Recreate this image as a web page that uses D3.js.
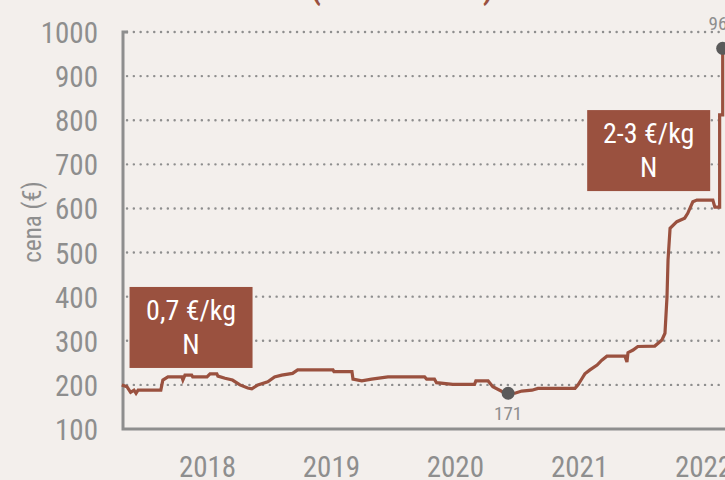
<!DOCTYPE html>
<html>
<head>
<meta charset="utf-8">
<script src="https://cdn.jsdelivr.net/npm/d3@7"></script>
<style>
  body { margin: 0; background: #f3efec; }
  svg { display: block; font-family: "Liberation Sans Narrow", "Roboto Condensed", "DejaVu Sans Condensed", sans-serif; }
</style>
</head>
<body>
<svg id="chart" width="725" height="480"></svg>
<script>
// weekly price of nitrogen fertiliser
const dates = [
  "2017-04-25","2017-05-10","2017-05-21","2017-05-31","2017-06-06","2017-06-12","2017-08-18",
  "2017-08-24","2017-09-08","2017-10-19","2017-10-22","2017-10-28","2017-11-17","2017-11-20",
  "2018-01-01","2018-01-10","2018-01-30","2018-02-02","2018-02-23","2018-03-17","2018-04-08",
  "2018-05-01","2018-05-13","2018-05-31","2018-06-29","2018-07-19","2018-08-09","2018-09-10",
  "2018-09-25","2019-01-07","2019-01-10","2019-03-04","2019-03-07","2019-04-02","2019-05-01",
  "2019-06-18","2019-10-04","2019-10-10","2019-11-02","2019-11-08","2019-12-26","2020-02-28",
  "2020-03-03","2020-04-08","2020-04-22","2020-05-19","2020-06-06","2020-06-26","2020-07-16",
  "2020-08-15","2020-09-02","2020-12-20","2020-12-29","2021-01-10","2021-01-18","2021-02-02",
  "2021-02-23","2021-03-09","2021-03-24","2021-05-16","2021-05-22","2021-05-25","2021-06-09",
  "2021-06-23","2021-08-12","2021-09-02","2021-09-11","2021-09-17","2021-09-20","2021-09-26",
  "2021-10-16","2021-11-08","2021-11-17","2021-12-02","2021-12-14","2022-01-30","2022-02-05",
  "2022-02-19","2022-02-19","2022-02-28","2022-02-28"
]
const prices = [
  200,196,183,188,181,188,188,
  211,218,218,211,222,222,218,
  218,225,225,220,215,211,200,
  193,191,200,207,218,222,226,
  234,234,230,230,213,209,213,
  218,218,213,213,205,201,201,
  209,209,196,185,181,181,186,
  188,192,192,200,215,225,234,
  245,256,265,265,252,273,279,
  287,288,302,317,400,483,555,
  570,578,589,615,619,619,603,
  603,812,812,963
]

// marked points: min and max
const markDates = ["2020-06-06", "2022-02-28"]
const markValues = [181, 963]
const markLabels = ["171", "963"]

const yTicks = [100, 200, 300, 400, 500, 600, 700, 800, 900, 1000]
const yearTicks = ["2018", "2019", "2020", "2021", "2022"]

const notes = [
  { date: "2017-11-15", value: 422, lines: ["0,7 €/kg", "N"] },
  { date: "2021-07-25", value: 823, lines: ["2-3 €/kg", "N"] }
]

const parse = d3.utcParse("%Y-%m-%d")
const data = dates.map((d, i) => ({ date: parse(d), value: prices[i] }))

const svg = d3.select("#chart")
const left = 123, bottom = 429

const x = d3.scaleUtc()
  .domain([parse("2018-01-01"), parse("2022-01-01")])
  .range([207, 703])
const y = d3.scaleLinear().domain([100, 1000]).range([bottom, 32])

const grey = "#8e8e8e"
const brown = "#9a513f"

// cut title (only bottom of parentheses visible)
svg.append("text")
  .attr("x", 402).attr("y", -1)
  .attr("text-anchor", "middle")
  .attr("fill", brown)
  .style("font-size", "32px").style("font-weight", "bold")
  .text("(2017 – 2022)")

// dotted grid
svg.append("g")
  .selectAll("line")
  .data(yTicks.filter(d => d > 100))
  .join("line")
  .attr("x1", left + 4).attr("x2", 725)
  .attr("y1", d => y(d)).attr("y2", d => y(d))
  .attr("stroke", grey)
  .attr("stroke-width", 2.4)
  .attr("stroke-linecap", "round")
  .attr("stroke-dasharray", "0.1 6.7")

// y axis labels
const yAxis = svg.append("g")
  .attr("transform", `translate(${left},0)`)
  .call(d3.axisLeft(y).tickValues(yTicks).tickSize(0).tickPadding(25).tickFormat(d3.format("d")))
  .attr("font-family", null)
yAxis.select(".domain").remove()
yAxis.selectAll("text")
  .attr("fill", grey)
  .style("font-size", "29px")
  .attr("dy", "0.36em")

// x axis labels
const xAxis = svg.append("g")
  .attr("transform", `translate(0,${bottom})`)
  .call(d3.axisBottom(x).tickValues(yearTicks.map(d => parse(d + "-01-01"))).tickSize(0).tickFormat(d3.utcFormat("%Y")))
  .attr("font-family", null)
xAxis.select(".domain").remove()
xAxis.selectAll("text")
  .attr("fill", grey)
  .attr("y", 48)
  .attr("dy", 0)
  .style("font-size", "29px")

// axis frame
svg.append("path")
  .attr("d", `M${left + 5},${y(1000)}H${left}V${bottom}H725`)
  .attr("fill", "none")
  .attr("stroke", grey)
  .attr("stroke-width", 3)

svg.append("text")
  .attr("transform", "translate(41,222) rotate(-90)")
  .attr("text-anchor", "middle")
  .attr("fill", grey)
  .style("font-size", "25px")
  .text("cena (€)")

// price line
const line = d3.line().x(d => x(d.date)).y(d => y(d.value))
svg.append("path")
  .datum(data)
  .attr("d", line)
  .attr("fill", "none")
  .attr("stroke", brown)
  .attr("stroke-width", 3.2)
  .attr("stroke-linejoin", "miter")

// min / max markers
markDates.forEach((d, i) => {
  const cx = x(parse(d)), cy = y(markValues[i])
  svg.append("circle")
    .attr("cx", cx).attr("cy", cy).attr("r", 6.5)
    .attr("fill", "#5a5a5a")
  svg.append("text")
    .attr("x", cx)
    .attr("y", i === 0 ? cy + 27 : cy - 18)
    .attr("text-anchor", "middle")
    .attr("fill", grey)
    .style("font-size", "19px")
    .text(markLabels[i])
})

// notes
notes.forEach(n => {
  const nx = x(parse(n.date)), ny = y(n.value)
  const g = svg.append("g").attr("transform", `translate(${nx},${ny})`)
  g.append("rect")
    .attr("x", -61.5).attr("y", 0)
    .attr("width", 123).attr("height", 81)
    .attr("fill", brown)
  g.selectAll("text")
    .data(n.lines)
    .join("text")
    .attr("x", 0)
    .attr("y", (d, i) => 33 + i * 34)
    .attr("text-anchor", "middle")
    .attr("fill", "#fff")
    .style("font-size", "28px")
    .text(d => d)
})
</script>
</body>
</html>
